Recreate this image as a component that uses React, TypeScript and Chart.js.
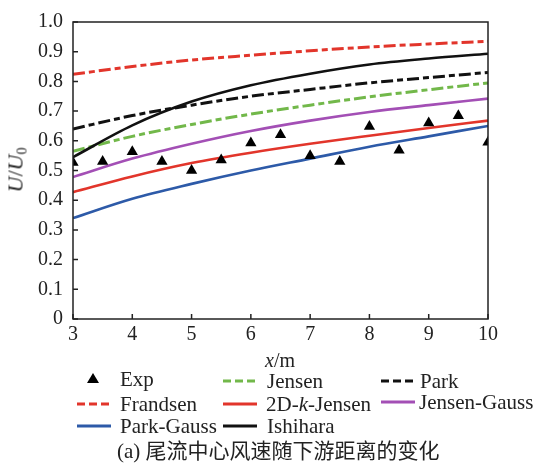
import React, { useEffect, useRef } from "react";
import { Chart, registerables } from "chart.js";

Chart.register(...registerables);

const modelX = [3, 4, 5, 6, 7, 8, 9, 10];
const frandsen = [0.824, 0.85, 0.872, 0.888, 0.903, 0.916, 0.926, 0.935];
const ishihara = [0.545, 0.652, 0.732, 0.787, 0.826, 0.857, 0.877, 0.893];
const park = [0.64, 0.685, 0.72, 0.75, 0.773, 0.795, 0.813, 0.83];
const jensen = [0.565, 0.615, 0.655, 0.69, 0.72, 0.748, 0.772, 0.795];
const jensenGauss = [0.478, 0.54, 0.59, 0.633, 0.668, 0.697, 0.72, 0.742];
const jensen2Dk = [0.427, 0.48, 0.525, 0.56, 0.59, 0.617, 0.643, 0.668];
const parkGauss = [0.34, 0.405, 0.455, 0.5, 0.54, 0.58, 0.615, 0.65];

const expX = [3, 3.5, 4, 4.5, 5, 5.5, 6, 6.5, 7, 7.5, 8, 8.5, 9, 9.5, 10];
const expY = [0.527, 0.53, 0.563, 0.53, 0.5, 0.535, 0.593, 0.62, 0.55, 0.53, 0.648, 0.568, 0.66, 0.684, 0.595];

const xTicks = [3, 4, 5, 6, 7, 8, 9, 10];
const yTicks = [0, 0.1, 0.2, 0.3, 0.4, 0.5, 0.6, 0.7, 0.8, 0.9, 1.0];

const RED = "#e2352b";
const GREEN = "#72b84a";
const PURPLE = "#a34fb5";
const BLUE = "#2d5aa8";
const BLACK = "#111111";
const DASH = [12, 4, 6, 4];

const pts = (xs: number[], ys: number[]) => xs.map((x, i) => ({ x, y: ys[i] }));

const FONT = '"Liberation Serif", "Times New Roman", "Noto Sans CJK SC", serif';

const frame = {
  id: "frame",
  afterDraw(chart: any) {
    const { ctx, chartArea } = chart;
    const xs = chart.scales.x;
    const ys = chart.scales.y;
    ctx.save();
    ctx.strokeStyle = "#222";
    ctx.lineWidth = 1.5;
    ctx.strokeRect(chartArea.left, chartArea.top, chartArea.right - chartArea.left, chartArea.bottom - chartArea.top);
    ctx.beginPath();
    xTicks.forEach((v) => {
      const px = xs.getPixelForValue(v);
      ctx.moveTo(px, chartArea.bottom);
      ctx.lineTo(px, chartArea.bottom - 5);
    });
    yTicks.forEach((v) => {
      const py = ys.getPixelForValue(v);
      ctx.moveTo(chartArea.left, py);
      ctx.lineTo(chartArea.left + 5, py);
    });
    ctx.stroke();
    ctx.restore();
  },
};

function LegendLine({ color, dashed }: { color: string; dashed?: boolean }) {
  const ref = useRef<HTMLCanvasElement | null>(null);
  useEffect(() => {
    const c = ref.current;
    if (!c) return;
    const ctx = c.getContext("2d")!;
    ctx.clearRect(0, 0, 34, 8);
    ctx.strokeStyle = color;
    ctx.lineWidth = 3;
    ctx.setLineDash(dashed ? [8, 4] : []);
    ctx.beginPath();
    ctx.moveTo(0, 4);
    ctx.lineTo(34, 4);
    ctx.stroke();
  }, [color, dashed]);
  return <canvas ref={ref} width={34} height={8} style={{ display: "block" }} />;
}

type Item = { label: React.ReactNode; color?: string; dashed?: boolean; tri?: boolean; lx: number; tx: number; y: number };

const items: Item[] = [
  { label: "Exp", tri: true, lx: 77, tx: 120, y: 379 },
  { label: "Jensen", color: GREEN, dashed: true, lx: 223, tx: 267, y: 381 },
  { label: "Park", color: BLACK, dashed: true, lx: 381, tx: 420, y: 381 },
  { label: "Frandsen", color: RED, dashed: true, lx: 77, tx: 120, y: 404 },
  { label: <span>2D-<i>k</i>-Jensen</span>, color: RED, lx: 223, tx: 266, y: 404 },
  { label: "Jensen-Gauss", color: PURPLE, lx: 381, tx: 419, y: 402 },
  { label: "Park-Gauss", color: BLUE, lx: 77, tx: 120, y: 426 },
  { label: "Ishihara", color: BLACK, lx: 223, tx: 267, y: 426 },
];

export default function App() {
  const canvasRef = useRef<HTMLCanvasElement | null>(null);

  useEffect(() => {
    const canvas = canvasRef.current;
    if (!canvas) return;
    const line = (label: string, ys: number[], color: string, dashed: boolean, width: number) => ({
      label,
      data: pts(modelX, ys),
      borderColor: color,
      backgroundColor: color,
      borderWidth: width,
      borderDash: dashed ? DASH : [],
      pointRadius: 0,
      fill: false,
      cubicInterpolationMode: "monotone" as const,
    });
    const chart = new Chart(canvas, {
      type: "line",
      data: {
        datasets: [
          {
            label: "Exp",
            data: pts(expX, expY),
            showLine: false,
            pointStyle: "triangle",
            pointRadius: 6.5,
            backgroundColor: "#000",
            borderColor: "#000",
            borderWidth: 0,
          } as any,
          line("Frandsen", frandsen, RED, true, 3),
          line("Ishihara", ishihara, BLACK, false, 2.6),
          line("Park", park, BLACK, true, 3),
          line("Jensen", jensen, GREEN, true, 3),
          line("Jensen-Gauss", jensenGauss, PURPLE, false, 2.6),
          line("2D-k-Jensen", jensen2Dk, RED, false, 2.6),
          line("Park-Gauss", parkGauss, BLUE, false, 2.6),
        ],
      },
      options: {
        animation: false,
        responsive: false,
        layout: { padding: { top: 17, right: 48, left: 0, bottom: 0 } },
        plugins: { legend: { display: false }, tooltip: { enabled: false } },
        scales: {
          x: {
            type: "linear",
            min: 3,
            max: 10,
            afterFit: (s: any) => {
              s.height = 146;
            },
            afterBuildTicks: (s: any) => {
              s.ticks = xTicks.map((v) => ({ value: v }));
            },
            ticks: {
              color: "#222",
              font: { family: FONT, size: 20 },
              padding: 4,
              maxRotation: 0,
              callback: (v: any) => String(v),
            },
            grid: { display: false, drawTicks: false },
            border: { display: false },
          },
          y: {
            type: "linear",
            min: 0,
            max: 1,
            afterFit: (s: any) => {
              s.width = 73;
            },
            afterBuildTicks: (s: any) => {
              s.ticks = yTicks.map((v) => ({ value: v }));
            },
            ticks: {
              color: "#222",
              font: { family: FONT, size: 20 },
              padding: 10,
              callback: (v: any) => (Number(v) === 0 ? "0" : Number(v).toFixed(1)),
            },
            grid: { display: false, drawTicks: false },
            border: { display: false },
          },
        },
      },
      plugins: [frame],
    });
    return () => chart.destroy();
  }, []);

  const text: React.CSSProperties = {
    position: "absolute",
    fontFamily: FONT,
    fontSize: 21,
    color: "#222",
    lineHeight: "20px",
    whiteSpace: "nowrap",
  };

  return (
    <div style={{ position: "fixed", left: 0, top: 0, width: 536, height: 465, background: "#fff", overflow: "hidden" }}>
      <canvas ref={canvasRef} width={536} height={465} style={{ display: "block", position: "absolute", left: 0, top: 0 }} />
      <div
        style={{
          ...text,
          left: 19,
          top: 170,
          transform: "translate(-50%, -50%) rotate(-90deg)",
          fontSize: 22,
        }}
      >
        <i>U</i>/<i>U</i>
        <sub style={{ fontSize: 14, verticalAlign: "-4px" }}>0</sub>
      </div>
      <div style={{ ...text, left: 280, top: 360, fontSize: 20, transform: "translate(-50%, -50%)" }}>
        <i>x</i>/m
      </div>
      {items.map((it, i) => (
        <React.Fragment key={i}>
          {it.tri ? (
            <div
              style={{
                position: "absolute",
                left: 87,
                top: it.y - 6,
                width: 0,
                height: 0,
                borderLeft: "6px solid transparent",
                borderRight: "6px solid transparent",
                borderBottom: "10px solid #000",
              }}
            />
          ) : (
            <div style={{ position: "absolute", left: it.lx, top: it.y - 4 }}>
              <LegendLine color={it.color!} dashed={it.dashed} />
            </div>
          )}
          <div style={{ ...text, left: it.tx, top: it.y - 10 }}>{it.label}</div>
        </React.Fragment>
      ))}
      <div style={{ ...text, left: 117, top: 441, fontSize: 21 }}>(a) 尾流中心风速随下游距离的变化</div>
    </div>
  );
}
